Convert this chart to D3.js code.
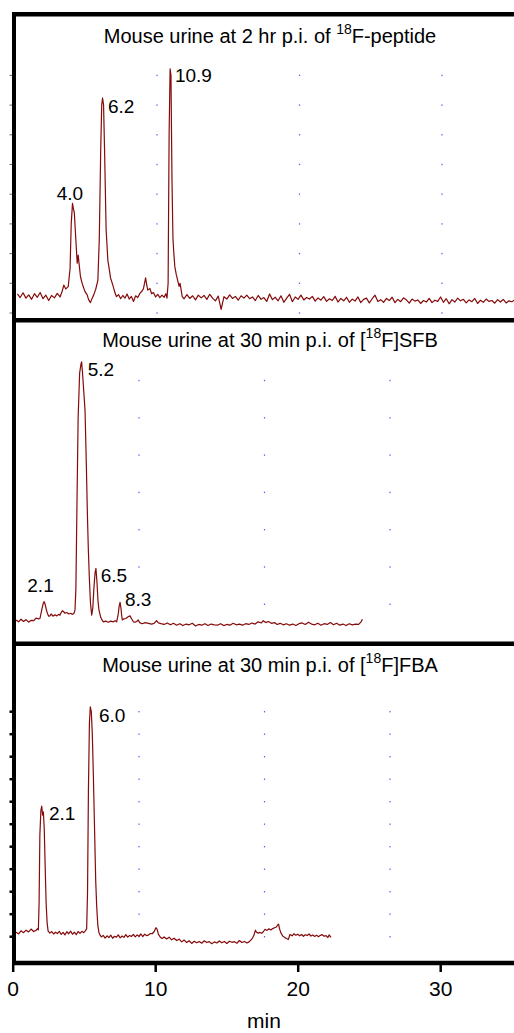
<!DOCTYPE html>
<html>
<head>
<meta charset="utf-8">
<script src="https://cdn.jsdelivr.net/npm/d3@7"></script>
<style>
  body { margin: 0; background: #fff; }
  text { font-family: "Liberation Sans", Arial, Helvetica, sans-serif; fill: #000; }
</style>
</head>
<body>
<div id="chart"></div>
<script>
// Chart size
var svgWidth = 514;
var svgHeight = 1033;

// ---- data ----
var xTickValues = [0, 10, 20, 30];
var gridTimes = [10, 20, 30];
var axisLabel = "min";

// titles: [before superscript, superscript, after]
var titlePeptide = ["Mouse urine at 2 hr p.i. of ", "18", "F-peptide"];
var titleSFB = ["Mouse urine at 30 min p.i. of [", "18", "F]SFB"];
var titleFBA = ["Mouse urine at 30 min p.i. of [", "18", "F]FBA"];

// peak labels: [text, time of label, signal of label]
var peaksPeptide = [["4.0", 2.96, 38.0], ["6.2", 6.56, 67.3], ["10.9", 11.26, 77.8]];
var peaksSFB = [["5.2", 5.91, 71.3], ["6.5", 6.95, 16.1], ["2.1", 1.10, 13.4], ["8.3", 8.88, 9.5]];
var peaksFBA = [["6.0", 6.81, 105.6], ["2.1", 2.83, 61.9]];

// radio traces: [min, signal]
var tracePeptide = [
  [0.2,6.4],[0.4,5.2],[0.6,6.8],[0.8,5.0],[1.0,6.1],[1.2,4.6],[1.4,6.5],[1.6,5.3],[1.8,6.9],[2.0,4.8],
  [2.2,6.0],[2.4,4.2],[2.6,5.9],[2.8,5.1],[3.0,6.6],[3.2,5.4],[3.35,7.4],[3.46,9.4],[3.6,8.1],[3.77,8.9],
  [3.9,15],[3.98,30],[4.07,36.9],[4.13,35.2],[4.2,33.7],[4.3,25],[4.4,16.8],[4.47,19.5],[4.54,16.2],[4.63,12.2],
  [4.72,10.5],[4.82,8.9],[4.95,7.2],[5.1,6.1],[5.2,4.5],[5.33,3.5],[5.45,5.0],[5.56,6.1],[5.7,8],[5.85,11],
  [5.95,25],[6.05,55],[6.12,70],[6.18,72.4],[6.25,70],[6.32,55],[6.43,28],[6.55,17.8],[6.64,15],[6.74,11.8],
  [6.83,10.5],[6.93,8.9],[7.05,6.8],[7.16,5.5],[7.3,6.2],[7.45,4.8],[7.6,5.9],[7.75,5.0],[7.9,6.4],[8.05,4.7],
  [8.2,5.6],[8.35,3.9],[8.5,5.8],[8.65,5.2],[8.8,6.6],[8.95,7.4],[9.05,8.2],[9.2,11.8],[9.28,9.5],[9.35,7.7],
  [9.5,8.3],[9.62,6.5],[9.75,6.9],[9.9,5.4],[10.05,6.3],[10.2,5.2],[10.35,6.0],[10.5,5.3],[10.62,6.5],[10.7,5.0],
  [10.78,10],[10.85,60],[10.92,82.2],[10.98,80],[11.05,45],[11.12,25],[11.18,20.2],[11.25,15.6],[11.35,13],[11.43,11.4],
  [11.55,9],[11.62,10],[11.77,5.5],
  [11.9,4.8],[12.1,6.2],[12.3,4.9],[12.5,5.8],[12.7,4.4],[12.9,6.0],[13.1,5.1],[13.3,5.9],[13.5,4.6],[13.7,6.3],
  [13.9,5.0],[14.1,4.1],[14.3,5.7],[14.5,1.2],[14.7,5.5],[14.9,4.7],[15.1,6.1],[15.3,4.9],[15.5,5.6],[15.7,4.3],
  [15.9,5.8],[16.1,5.0],[16.3,6.0],[16.5,4.8],[16.7,5.4],[16.9,4.2],[17.1,5.9],[17.3,4.6],[17.5,5.2],[17.7,3.9],
  [17.9,6.4],[18.1,4.5],[18.3,5.3],[18.5,4.1],[18.7,5.8],[18.9,3.6],[19.1,5.0],[19.3,6.3],[19.5,3.8],[19.7,5.4],
  [19.9,4.6],[20.1,6.0],[20.3,4.4],[20.5,5.2],[20.7,4.7],[20.9,5.6],[21.1,4.0],[21.3,5.1],[21.5,4.3],[21.7,5.5],
  [21.9,3.9],[22.1,4.8],[22.3,4.2],[22.5,5.6],[22.7,3.7],[22.9,4.9],[23.1,4.1],[23.3,5.3],[23.5,3.6],[23.7,4.7],
  [23.9,4.0],[24.1,5.4],[24.3,3.5],[24.5,4.6],[24.7,5.0],[24.9,3.4],[25.1,4.8],[25.3,6.0],[25.5,3.9],[25.7,4.5],
  [25.9,3.6],[26.1,4.9],[26.3,4.2],[26.5,5.3],[26.7,3.5],[26.9,4.6],[27.1,3.8],[27.3,5.1],[27.5,4.4],[27.7,3.3],
  [27.9,4.7],[28.1,4.0],[28.3,4.4],[28.5,3.2],[28.7,4.2],[28.9,3.7],[29.1,4.9],[29.3,3.5],[29.5,4.3],[29.7,3.9],
  [29.9,5.4],[30.1,3.6],[30.3,4.8],[30.5,3.1],[30.7,4.5],[30.9,3.7],[31.1,5.0],[31.3,4.1],[31.5,4.6],[31.7,3.4],
  [31.9,4.4],[32.1,3.8],[32.3,4.9],[32.5,3.2],[32.7,4.3],[32.9,3.6],[33.1,4.7],[33.3,3.9],[33.5,4.2],[33.7,3.3],
  [33.9,4.5],[34.1,3.7],[34.3,4.6],[34.5,3.4],[34.7,4.1],[34.9,3.8],[35.1,4.4]
];

var traceSFB = [
  [0.2,5.8],[0.4,5.3],[0.6,6.0],[0.8,5.4],[1.0,5.9],[1.2,5.2],[1.4,5.7],[1.6,5.6],[1.8,6.3],[2.0,6.1],
  [2.11,6.2],[2.25,8.5],[2.38,10.4],[2.45,10.7],[2.55,9.6],[2.63,8.4],[2.7,7.6],[2.8,6.8],[2.9,6.9],[3.0,7.4],
  [3.15,6.8],[3.3,7.2],[3.45,6.9],[3.6,7.3],[3.7,7.1],[3.8,7.8],[3.9,8.3],[4.0,8.0],[4.1,7.6],[4.25,7.8],
  [4.4,7.4],[4.55,7.6],[4.7,7.3],[4.82,7.6],[4.9,8.5],[4.97,14],[5.05,35],[5.15,60],[5.27,72],[5.38,74.5],
  [5.43,75],[5.5,72],[5.6,67],[5.7,62],[5.8,48],[5.88,35.3],[5.96,25],[6.04,17.4],[6.13,10.5],[6.23,7.1],
  [6.32,9],[6.4,14],[6.5,18.5],[6.57,19.6],[6.65,16],[6.73,11],[6.81,8.5],[6.95,6.5],[7.05,5.8],[7.16,5.3],
  [7.35,5.5],[7.55,5.2],[7.75,5.5],[7.95,5.3],[8.1,5.6],[8.22,5.3],[8.35,7.5],[8.42,9.5],[8.49,10.5],[8.56,9],
  [8.62,7],[8.67,5.8],[8.8,6.1],[8.95,6.2],[9.1,6.6],[9.28,6.9],[9.4,6.2],[9.55,5.3],[9.7,5.2],[9.82,5.4],
  [9.94,5.8],[10.05,5.1],[10.25,4.8],[10.5,5.1],[10.75,4.9],[11.0,4.7],[11.2,4.9],[11.4,5.6],[11.55,5.0],[11.75,4.8],
  [12.0,4.6],[12.25,5.0],[12.5,4.5],[12.75,4.9],[13.0,4.4],[13.25,4.8],[13.5,4.3],[13.75,4.7],[14.0,4.5],[14.25,4.9],
  [14.5,4.2],[14.75,4.6],[15.0,4.4],[15.25,4.8],[15.5,4.3],[15.75,4.7],[16.0,4.5],[16.25,4.4],[16.5,4.8],[16.75,4.3],
  [17.0,4.6],[17.25,4.4],[17.5,4.9],[17.75,4.5],[18.0,4.7],[18.25,4.4],[18.5,4.8],[18.75,4.6],[19.0,5.0],[19.25,4.7],
  [19.5,5.3],[19.75,5.0],[19.9,5.6],[20.1,5.1],[20.3,5.4],[20.55,4.9],[20.8,5.1],[21.0,4.6],[21.25,4.9],[21.5,4.5],
  [21.75,4.8],[22.0,4.4],[22.25,4.7],[22.5,4.3],[22.75,4.8],[23.0,5.0],[23.25,4.6],[23.5,5.2],[23.75,4.7],[24.0,4.5],
  [24.25,4.9],[24.5,4.4],[24.75,4.8],[25.0,4.6],[25.25,5.1],[25.5,4.5],[25.75,4.9],[26.0,4.4],[26.25,4.7],[26.5,4.3],
  [26.75,4.8],[27.0,4.5],[27.25,4.7],[27.5,4.6],[27.7,5.3],[27.8,6.0]
];

var traceFBA = [
  [0.2,12.0],[0.4,11.3],[0.6,12.6],[0.8,11.8],[1.0,12.9],[1.2,12.1],[1.4,13.4],[1.6,12.3],[1.8,12.8],[1.92,13.6],
  [1.98,13.0],[2.04,25],[2.1,55],[2.18,66],[2.25,68],[2.32,64],[2.38,65.5],[2.45,58],[2.52,42],[2.6,25],
  [2.68,16],[2.76,12.5],[2.9,11.6],[3.05,12.3],[3.2,11.2],[3.35,12.0],[3.5,11.4],[3.65,12.4],[3.8,11.0],[3.95,11.9],
  [4.1,10.8],[4.25,12.2],[4.4,11.3],[4.55,12.5],[4.7,11.1],[4.85,12.0],[5.0,10.9],[5.15,12.3],[5.3,11.5],[5.45,12.4],
  [5.6,11.8],[5.72,12.6],[5.83,13.5],[5.9,30],[5.97,75],[6.05,105],[6.12,112.2],[6.2,110],[6.28,100],[6.36,82.6],
  [6.45,60],[6.55,35],[6.63,23.3],[6.72,15],[6.8,12],[6.89,10.8],[7.0,9.9],[7.15,10.6],[7.3,9.4],[7.45,10.4],
  [7.6,9.6],[7.75,10.7],[7.9,9.3],[8.05,10.2],[8.2,9.8],[8.35,10.8],[8.5,9.5],[8.65,10.3],[8.8,9.7],[8.95,10.9],
  [9.1,9.8],[9.25,10.5],[9.4,10.1],[9.55,11.0],[9.7,9.9],[9.85,10.8],[10.0,10.2],[10.15,11.2],[10.3,10.0],[10.45,11.1],
  [10.6,10.5],[10.75,10.7],[10.9,11.4],[11.05,11.3],[11.2,12.2],[11.35,14.0],[11.45,13.2],[11.55,11.0],[11.7,9.8],[11.85,9.2],
  [12.0,9.9],[12.2,9.0],[12.4,9.8],[12.6,8.6],[12.8,9.3],[13.0,8.3],[13.2,8.9],[13.4,7.7],[13.6,8.5],[13.8,7.4],
  [14.0,8.2],[14.2,7.0],[14.4,8.0],[14.6,7.3],[14.8,7.9],[15.0,7.1],[15.2,8.2],[15.4,7.4],[15.6,7.8],[15.8,6.9],
  [16.0,7.7],[16.2,7.2],[16.4,8.1],[16.6,7.3],[16.8,7.9],[17.0,7.0],[17.2,8.0],[17.4,7.5],[17.6,7.8],[17.8,7.1],
  [18.0,8.3],[18.2,7.4],[18.4,7.9],[18.6,7.2],[18.8,7.8],[19.0,9.0],[19.15,10.5],[19.28,12.9],[19.36,12.0],[19.5,11.6],
  [19.65,11.9],[19.78,11.5],[19.92,12.3],[20.04,13.3],[20.2,12.8],[20.35,13.5],[20.5,13.0],[20.65,13.6],[20.8,14.0],[20.95,14.3],
  [21.05,15.2],[21.12,15.6],[21.2,13.5],[21.3,11.8],[21.45,10.3],[21.6,9.7],[21.75,9.2],[21.9,8.8],[22.03,11.0],[22.2,10.4],
  [22.35,11.3],[22.5,10.6],[22.65,11.1],[22.8,10.4],[22.95,11.0],[23.1,10.2],[23.25,10.9],[23.4,10.5],[23.55,11.2],[23.7,10.3],
  [23.85,10.8],[24.0,10.1],[24.15,10.7],[24.3,10.0],[24.45,10.6],[24.6,10.9],[24.75,10.2],[24.9,10.5],[25.05,9.6],[25.15,10.8],
  [25.3,9.7]
];

// ---- scales ----
// top chromatogram and the bottom min axis use the same spacing
var xTop = d3.scaleLinear().domain([0, 35]).range([14.5, 14.5 + 35 * 14.25]);
var xLow = d3.scaleLinear().domain([0, 30]).range([13.5, 13.5 + 30 * 12.55]);
var xAxisScale = d3.scaleLinear().domain([0, 35]).range([12.7, 12.7 + 35 * 14.25]);

var panels = [
  { title: titlePeptide, titleY: 43, trace: tracePeptide, peaks: peaksPeptide, x: xTop,
    y: d3.scaleLinear().domain([0, 80]).range([313, 75.4]), rows: 8, firstRow: 0, leftTicks: 1 },
  { title: titleSFB, titleY: 347, trace: traceSFB, peaks: peaksSFB, x: xLow,
    y: d3.scaleLinear().domain([0, 70]).range([641.6, 380.5]), rows: 7, firstRow: 10, leftTicks: 0 },
  { title: titleFBA, titleY: 672, trace: traceFBA, peaks: peaksFBA, x: xLow,
    y: d3.scaleLinear().domain([0, 110]).range([959.2, 711.7]), rows: 11, firstRow: 10, leftTicks: 2.5 }
];

var svg = d3.select("#chart")
  .append("svg")
  .attr("width", svgWidth)
  .attr("height", svgHeight);

panels.forEach(function (p) {
  var g = svg.append("g");

  // dotted blue grid: only dots at the row / column crossings
  var rowValues = p.y.ticks(p.rows).filter(d => d >= p.firstRow);
  gridTimes.forEach(function (t) {
    g.selectAll(null)
      .data(rowValues)
      .enter()
      .append("rect")
      .attr("x", p.x(t) - 0.6)
      .attr("y", d => p.y(d) - 0.7)
      .attr("width", 1.2)
      .attr("height", 1.4)
      .attr("fill", "#5a5aff");
  });

  // small ticks left of the frame
  if (p.leftTicks) {
    g.selectAll(null)
      .data(rowValues)
      .enter()
      .append("line")
      .attr("x1", 9.5)
      .attr("x2", 14)
      .attr("y1", d => p.y(d))
      .attr("y2", d => p.y(d))
      .attr("stroke", p.leftTicks > 2 ? "#000" : "#666")
      .attr("stroke-width", p.leftTicks);
  }

  var line = d3.line()
    .x(d => p.x(d[0]))
    .y(d => p.y(d[1]));

  g.append("path")
    .datum(p.trace)
    .attr("d", line)
    .attr("fill", "none")
    .attr("stroke", "#850a0a")
    .attr("stroke-width", 1.2)
    .attr("stroke-linejoin", "round");

  // title with superscript
  var title = g.append("text")
    .attr("x", 270)
    .attr("y", p.titleY)
    .attr("text-anchor", "middle")
    .style("font-size", "20px");
  title.append("tspan").text(p.title[0]);
  title.append("tspan").attr("dy", -9).style("font-size", "14px").text(p.title[1]);
  title.append("tspan").attr("dy", 9).text(p.title[2]);

  g.selectAll(null)
    .data(p.peaks)
    .enter()
    .append("text")
    .attr("x", d => p.x(d[1]))
    .attr("y", d => p.y(d[2]))
    .style("font-size", "19px")
    .text(d => d[0]);
});

// frame lines between the panels
var frameRows = [14.2, 320.3, 643.8];
svg.selectAll(".frame")
  .data(frameRows)
  .enter()
  .append("line")
  .attr("x1", 12)
  .attr("x2", svgWidth)
  .attr("y1", d => d)
  .attr("y2", d => d)
  .attr("stroke", "#000")
  .attr("stroke-width", 4.5);

svg.append("line")
  .attr("x1", 14)
  .attr("x2", 14)
  .attr("y1", 12)
  .attr("y2", 965)
  .attr("stroke", "#000")
  .attr("stroke-width", 4);

// bottom axis
var axisY = 963;
var bottomAxis = d3.axisBottom(xAxisScale)
  .tickValues(xTickValues)
  .tickSize(9)
  .tickSizeOuter(0)
  .tickPadding(9);

var axisG = svg.append("g")
  .attr("transform", `translate(0, ${axisY})`)
  .call(bottomAxis);
axisG.select(".domain").remove();
axisG.selectAll(".tick line").attr("stroke", "#000").attr("stroke-width", 2.5);
axisG.selectAll(".tick text")
  .style("font-size", "21px")
  .style("font-family", "'Liberation Sans', Arial, sans-serif");

svg.append("line")
  .attr("x1", 12)
  .attr("x2", svgWidth)
  .attr("y1", axisY)
  .attr("y2", axisY)
  .attr("stroke", "#000")
  .attr("stroke-width", 4.5);

svg.append("text")
  .attr("x", 264)
  .attr("y", 1028)
  .attr("text-anchor", "middle")
  .style("font-size", "21px")
  .text(axisLabel);
</script>
</body>
</html>
